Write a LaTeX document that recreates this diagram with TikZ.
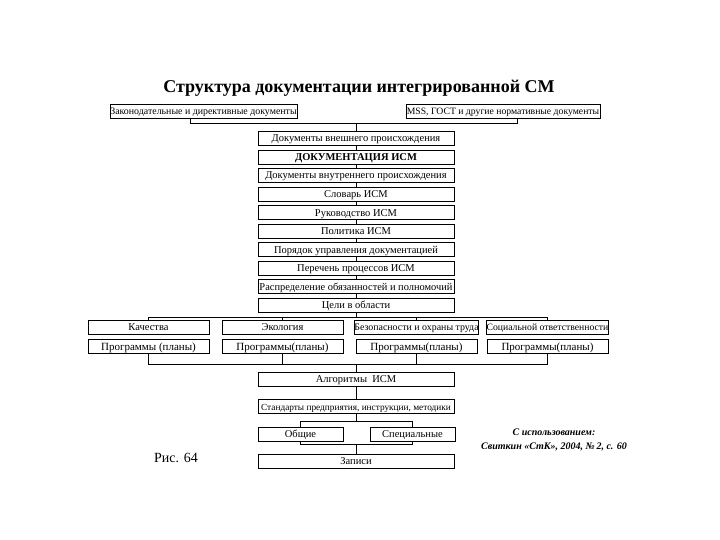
\documentclass[tikz,border=0pt]{standalone}
\usepackage{fontspec}
\setmainfont{Liberation Serif}
\begin{document}
\begin{tikzpicture}[x=1pt,y=-1pt,
  box/.style={draw, line width=0.8pt, inner sep=0pt, minimum height=14pt, text height=8pt, text depth=1pt, font=\fontsize{10.5}{11}\selectfont},
  mainbox/.style={box, minimum width=196pt},
  subbox/.style={box, minimum width=121pt},
  link/.style={line width=0.8pt}]
\useasboundingbox (0,0) rectangle (720,540);
\node[font=\fontsize{18}{21}\selectfont\bfseries] (title) at (359,88) {Структура документации интегрированной СМ};
\node[box, minimum width=187pt, font=\fontsize{9.9}{11}\selectfont] (L) at (203.5,111) {Законодательные и директивные документы};
\node[box, minimum width=194pt, font=\fontsize{9.7}{11}\selectfont] (R) at (503,111) {MSS, ГОСТ и другие нормативные документы};

\node[mainbox] (ext) at (356,138.5) {Документы внешнего происхождения};
\node[mainbox, font=\fontsize{10.5}{11}\selectfont\bfseries] (doc) at (356,157) {ДОКУМЕНТАЦИЯ ИСМ};
\node[mainbox] (int) at (356,175.5) {Документы внутреннего происхождения};
\node[mainbox] (slov) at (356,194) {Словарь ИСМ};
\node[mainbox] (ruk) at (356,212.5) {Руководство ИСМ};
\node[mainbox] (pol) at (356,231) {Политика ИСМ};
\node[mainbox] (por) at (356,249.5) {Порядок управления документацией};
\node[mainbox] (per) at (356,268) {Перечень процессов ИСМ};
\node[mainbox, font=\fontsize{10.4}{11}\selectfont] (rasp) at (356,286.5) {Распределение обязанностей и полномочий};
\node[mainbox] (cel) at (356,305) {Цели в области};

\node[subbox] (q1) at (148.5,327) {Качества};
\node[subbox] (q2) at (282.5,327) {Экология};
\node[subbox, font=\fontsize{9.9}{11}\selectfont] (q3) at (416.5,327) {Безопасности и охраны труда};
\node[subbox, font=\fontsize{9.7}{11}\selectfont] (q4) at (547.5,327) {Социальной ответственности};
\node[subbox, font=\fontsize{11}{12}\selectfont] (p1) at (148.5,346.5) {Программы (планы)};
\node[subbox, font=\fontsize{11}{12}\selectfont] (p2) at (282.5,346.5) {Программы(планы)};
\node[subbox, font=\fontsize{11}{12}\selectfont] (p3) at (416.5,346.5) {Программы(планы)};
\node[subbox, font=\fontsize{11}{12}\selectfont] (p4) at (547.5,346.5) {Программы(планы)};

\node[mainbox] (alg) at (356,379) {Алгоритмы\ \ ИСМ};
\node[mainbox, font=\fontsize{9.3}{10}\selectfont] (std) at (356,406.5) {Стандарты предприятия, инструкции, методики};
\node[box, minimum width=85pt] (obs) at (300.5,434) {Общие};
\node[box, minimum width=85pt] (spe) at (412.5,434) {Специальные};
\node[mainbox] (zap) at (356,461) {Записи};

\node[font=\fontsize{14}{16}\selectfont] (fig) at (176,458) {Рис. 64};
\node[font=\fontsize{10}{14}\selectfont\bfseries\itshape, align=center] (src) at (554,440) {С использованием:\\Свиткин «СтК», 2004, №\,2, с. 60};

% top bracket
\coordinate (bl) at (190,123);
\coordinate (br) at (517,123);
\draw[link] (L.south -| bl) -- (bl) -- (br) -- (R.south -| br);
\draw[link] (ext.north |- bl) -- (ext.north);

% spine
\foreach \a/\b in {ext/doc,doc/int,int/slov,slov/ruk,ruk/pol,pol/por,por/per,per/rasp,rasp/cel}
  \draw[link] (\a.south) -- (\b.north);

% branch to goals
\coordinate (hy) at (0,317);
\draw[link] (q1.north) -- (q1.north |- hy) -- (q4.north |- hy) -- (q4.north);
\draw[link] (q2.north) -- (q2.north |- hy);
\draw[link] (q3.north) -- (q3.north |- hy);
\draw[link] (cel.south) -- (cel.south |- hy);

% programs to algorithms
\coordinate (hz) at (0,364);
\draw[link] (p1.south) -- (p1.south |- hz) -- (p4.south |- hz) -- (p4.south);
\draw[link] (p2.south) -- (p2.south |- hz);
\draw[link] (p3.south) -- (p3.south |- hz);
\draw[link] (alg.north |- hz) -- (alg.north);

\draw[link] (alg.south) -- (std.north);

% general / special
\coordinate (ha) at (0,421);
\coordinate (hb) at (0,444.5);
\draw[link] (obs.north) -- (obs.north |- ha) -- (spe.north |- ha) -- (spe.north);
\draw[link] (std.south) -- (std.south |- ha);
\draw[link] (obs.south) -- (obs.south |- hb) -- (spe.south |- hb) -- (spe.south);
\draw[link] (zap.north |- hb) -- (zap.north);
\end{tikzpicture}
\end{document}
